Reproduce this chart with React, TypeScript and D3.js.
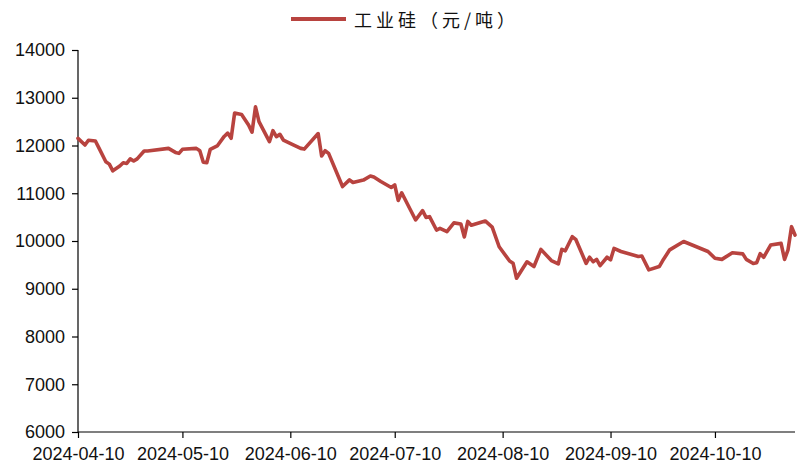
import React, { useEffect, useRef } from "react";
import * as d3 from "d3";

const seriesName = "工业硅（元/吨）";

const dates: string[] = [
  "2024-04-10","2024-04-12","2024-04-13","2024-04-15","2024-04-16","2024-04-18","2024-04-19","2024-04-20",
  "2024-04-22","2024-04-23","2024-04-24","2024-04-25","2024-04-26","2024-04-27","2024-04-29","2024-04-30",
  "2024-05-06","2024-05-08","2024-05-09","2024-05-10","2024-05-14","2024-05-15","2024-05-16","2024-05-17",
  "2024-05-18","2024-05-20","2024-05-22","2024-05-23","2024-05-24","2024-05-25","2024-05-27","2024-05-29",
  "2024-05-30","2024-05-31","2024-06-01","2024-06-04","2024-06-05","2024-06-06","2024-06-07","2024-06-08",
  "2024-06-11","2024-06-13","2024-06-14","2024-06-18","2024-06-19","2024-06-20","2024-06-21","2024-06-25",
  "2024-06-27","2024-06-28","2024-07-01","2024-07-03","2024-07-04","2024-07-06","2024-07-09","2024-07-10",
  "2024-07-11","2024-07-12","2024-07-16","2024-07-18","2024-07-19","2024-07-20","2024-07-22","2024-07-23",
  "2024-07-25","2024-07-27","2024-07-29","2024-07-30","2024-07-31","2024-08-01","2024-08-05","2024-08-07",
  "2024-08-09","2024-08-12","2024-08-13","2024-08-14","2024-08-17","2024-08-19","2024-08-21","2024-08-24",
  "2024-08-26","2024-08-27","2024-08-28","2024-08-30","2024-08-31","2024-09-03","2024-09-04","2024-09-05",
  "2024-09-06","2024-09-07","2024-09-09","2024-09-10","2024-09-11","2024-09-13","2024-09-18","2024-09-19",
  "2024-09-21","2024-09-24","2024-09-25","2024-09-27","2024-10-01","2024-10-08","2024-10-10","2024-10-12",
  "2024-10-15","2024-10-18","2024-10-19","2024-10-21","2024-10-22","2024-10-23","2024-10-24","2024-10-26",
  "2024-10-29","2024-10-30","2024-10-31","2024-11-01","2024-11-02"
];

const prices: number[] = [
  12150,12010,12110,12095,11950,11660,11610,11470,
  11570,11640,11625,11720,11675,11720,11885,11885,
  11940,11855,11835,11920,11940,11890,11650,11640,
  11920,11990,12190,12260,12150,12680,12650,12430,
  12280,12810,12500,12080,12310,12185,12235,12115,
  12010,11940,11925,12250,11780,11890,11835,11140,
  11280,11225,11275,11360,11340,11245,11120,11175,
  10850,11010,10440,10635,10495,10510,10230,10265,
  10195,10380,10355,10085,10410,10330,10420,10290,
  9880,9580,9535,9220,9565,9465,9825,9590,
  9520,9825,9795,10090,10035,9530,9660,9565,
  9615,9485,9660,9605,9845,9780,9675,9685,
  9395,9465,9590,9815,9990,9780,9640,9615,
  9755,9730,9615,9530,9545,9735,9660,9915,
  9950,9615,9815,10300,10125
];

const yTicks: number[] = [6000, 7000, 8000, 9000, 10000, 11000, 12000, 13000, 14000];
const xTickLabels: string[] = [
  "2024-04-10","2024-05-10","2024-06-10","2024-07-10","2024-08-10","2024-09-10","2024-10-10"
];
const xDomain: string[] = ["2024-04-10", "2024-11-02"];
const yDomain: number[] = [6000, 14000];

const W = 799;
const H = 466;
const FONT = "'Liberation Sans', Arial, sans-serif";
const LINE_COLOR = "#B8433F";

export default function App() {
  const ref = useRef<SVGSVGElement | null>(null);

  useEffect(() => {
    const parse = d3.utcParse("%Y-%m-%d");
    const svg = d3.select(ref.current);
    svg.selectAll("*").remove();

    const x = d3.scaleUtc()
      .domain(xDomain.map((d) => parse(d) as Date))
      .range([78, 795]);
    const y = d3.scaleLinear().domain(yDomain).range([432, 50]);

    const data = dates.map((d, i) => ({ date: parse(d) as Date, value: prices[i] }));

    // y axis
    const yAxis = d3.axisLeft(y).tickValues(yTicks).tickSize(6).tickPadding(7).tickFormat(d3.format("d"));
    const gy = svg.append("g").attr("transform", "translate(78,0)").call(yAxis);
    gy.select(".domain").attr("stroke", "#000").attr("stroke-width", 1.2).attr("d", "M0,50V432");
    gy.selectAll(".tick line").attr("stroke", "#000").attr("stroke-width", 1.2);
    gy.selectAll(".tick text")
      .attr("font-family", FONT)
      .attr("font-size", 18)
      .attr("fill", "#111");

    // x axis
    const xAxis = d3.axisBottom(x)
      .tickValues(xTickLabels.map((d) => parse(d) as Date))
      .tickSize(6)
      .tickPadding(9)
      .tickFormat((d) => d3.utcFormat("%Y-%m-%d")(d as Date));
    const gx = svg.append("g").attr("transform", "translate(0,432)").call(xAxis);
    gx.select(".domain").attr("stroke", "#000").attr("stroke-width", 1.2).attr("d", "M78,0H795");
    gx.selectAll(".tick line").attr("stroke", "#000").attr("stroke-width", 1.2);
    gx.selectAll(".tick text")
      .attr("font-family", FONT)
      .attr("font-size", 18)
      .attr("fill", "#111");

    // line
    const line = d3.line<{ date: Date; value: number }>()
      .x((d) => x(d.date))
      .y((d) => y(d.value));
    svg.append("path")
      .datum(data)
      .attr("fill", "none")
      .attr("stroke", LINE_COLOR)
      .attr("stroke-width", 3.6)
      .attr("stroke-linejoin", "round")
      .attr("stroke-linecap", "round")
      .attr("d", line);

    // legend
    const lg = svg.append("g");
    lg.append("line")
      .attr("x1", 291).attr("x2", 346)
      .attr("y1", 19).attr("y2", 19)
      .attr("stroke", LINE_COLOR)
      .attr("stroke-width", 4);
    lg.append("text")
      .attr("x", 354)
      .attr("y", 26.5)
      .attr("font-family", "'Noto Sans CJK SC', sans-serif")
      .attr("font-size", 18)
      .attr("letter-spacing", 4)
      .attr("fill", "#111")
      .text(seriesName);
  }, []);

  return (
    <svg
      ref={ref}
      width={W}
      height={H}
      style={{ position: "absolute", left: 0, top: 0, background: "#fff" }}
    />
  );
}
